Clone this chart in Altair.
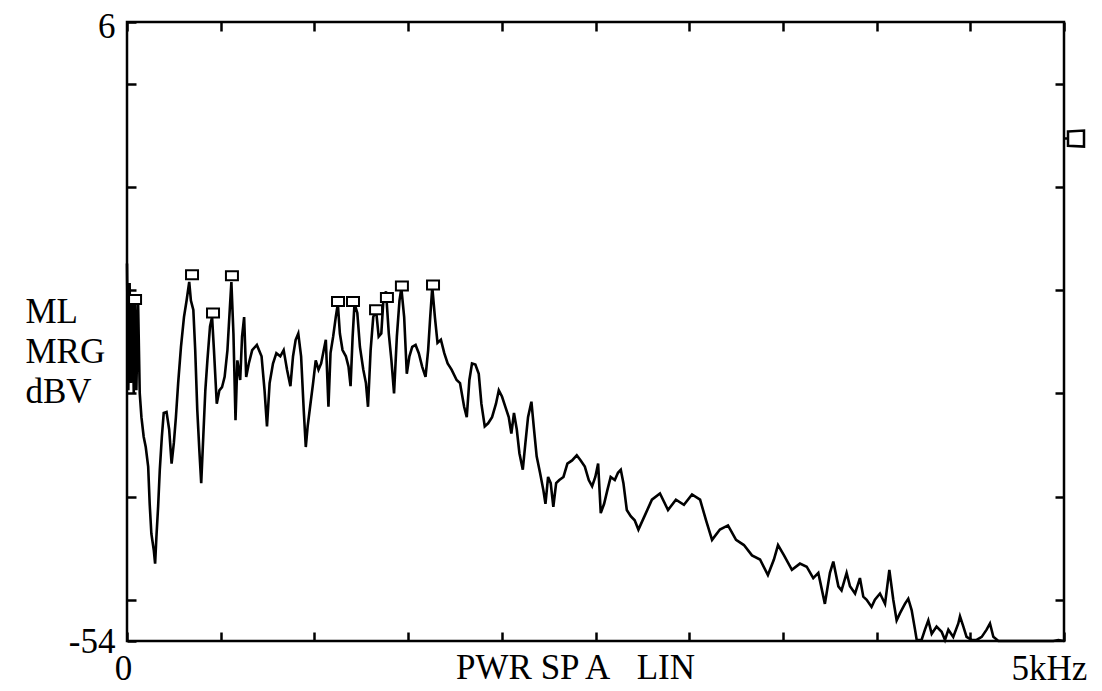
import altair as alt
import pandas as pd

# ---- spectrum trace (Hz, dBV) ----
FREQ_HZ = [0, 7, 14, 21, 29, 36, 43, 50, 59, 68, 77, 89, 100, 113, 121, 130, 143, 150, 157, 166,
           175, 186, 196, 211, 225, 238, 250, 261, 273, 288, 304, 318, 332, 341, 354, 364, 375, 386,
           396, 407, 418, 429, 443, 454, 464, 479, 493, 507, 521, 536, 546, 557, 568, 579, 589, 604,
           614, 625, 636, 650, 668, 693, 718, 734, 747, 761, 779, 797, 818, 836, 854, 872, 886, 900,
           914, 929, 943, 954, 964, 979, 993, 1007, 1022, 1036, 1050, 1061, 1075, 1086, 1100, 1114,
           1125, 1136, 1150, 1168, 1182, 1193, 1204, 1214, 1229, 1243, 1261, 1275, 1286, 1300, 1314,
           1329, 1343, 1357, 1368, 1382, 1397, 1411, 1425, 1440, 1454, 1464, 1479, 1493, 1507, 1522,
           1540, 1557, 1575, 1593, 1607, 1618, 1629, 1643, 1657, 1675, 1693, 1711, 1732, 1759,
           1777, 1799, 1813, 1827, 1841, 1859, 1877, 1891, 1909, 1927, 1948, 1969, 1984, 2001, 2019,
           2037, 2051, 2065, 2080, 2094, 2112, 2126, 2140, 2158, 2172, 2186, 2204, 2222, 2233, 2247,
           2261, 2275, 2290, 2307, 2329, 2350, 2375, 2400, 2421, 2443, 2464, 2482, 2499, 2514, 2528,
           2546, 2563, 2581, 2603, 2620, 2635, 2649, 2667, 2688, 2709, 2729,
           2764, 2801, 2844, 2887, 2929, 2972, 3015, 3058, 3090, 3122, 3164, 3207, 3250, 3292, 3335,
           3378, 3420, 3452, 3474, 3506, 3548,
           3591, 3627, 3662, 3689, 3724, 3751, 3769, 3796, 3813, 3840, 3858, 3885, 3911, 3929, 3947,
           3973, 3991, 4018, 4045, 4068, 4089, 4107, 4125, 4151, 4169, 4187, 4205, 4214, 4240, 4258,
           4276, 4294, 4320, 4347, 4365, 4383, 4409, 4436, 4445, 4463, 4480, 4507, 4534, 4561, 4587,
           4605, 4623, 4650, 4730, 4943, 4970, 5000]
LEVEL_DB = [-17.4, -29.7, -19.3, -29.0, -21.0, -30.0, -20.6, -29.7, -21.0, -30.0, -32.3, -34.2, -35.2,
            -37.1, -40.7, -43.6, -45.2, -46.5, -43.9, -41.0, -37.4, -34.2, -31.9, -31.8, -33.5, -36.8,
            -34.8, -32.3, -29.0, -25.5, -22.6, -21.0, -19.2, -21.0, -21.9, -25.8, -31.6, -35.5, -38.7,
            -34.2, -29.7, -26.8, -23.5, -22.6, -25.8, -31.0, -29.7, -29.4, -28.4, -25.8, -22.6, -19.2,
            -24.2, -32.6, -26.8, -28.7, -24.5, -22.6, -28.4, -27.1, -25.8, -25.3, -26.4, -29.7, -33.2,
            -29.0, -27.1, -26.1, -26.4, -25.8, -27.7, -29.3, -26.4, -24.8, -24.2, -26.4, -31.6, -35.2,
            -33.2, -31.0, -29.0, -26.8, -27.7, -27.1, -25.8, -24.8, -31.3, -26.1, -24.5, -22.6, -21.3,
            -24.2, -25.8, -26.4, -27.4, -29.3, -24.5, -21.3, -22.2, -25.5, -27.7, -29.0, -31.3, -25.8,
            -22.6, -21.9, -24.5, -24.2, -21.0, -20.1, -24.2, -26.8, -30.0, -24.5, -21.0, -19.8, -22.6,
            -28.1, -26.4, -25.5, -25.3, -26.1, -27.4, -28.4, -25.8, -22.6, -19.7, -22.6, -25.1, -24.8,
            -26.1, -27.1, -27.7, -28.7,
            -29.0, -31.3, -32.3, -28.7, -27.1, -27.2, -28.1, -31.0, -33.2, -32.9, -32.3, -31.0, -29.7,
            -30.3, -31.3, -32.3, -33.9, -31.9, -33.5, -35.8, -37.4, -34.8, -32.3, -30.8, -33.5, -36.1,
            -37.7, -39.4, -40.7, -38.1, -38.7, -41.0, -38.7, -38.4, -38.1, -36.8, -36.5, -36.0, -36.5,
            -37.1, -38.4, -39.0, -38.1, -36.8, -41.6, -40.7, -39.4, -38.1, -38.4, -37.7, -37.4, -38.7,
            -41.3, -41.9, -42.3, -43.2,
            -41.8, -40.3, -39.7, -41.3, -40.3, -40.8, -39.8, -40.3, -42.3, -44.2, -43.2, -42.8, -44.2,
            -44.7, -45.7, -46.1, -47.6, -46.1, -44.7, -45.7, -47.1,
            -46.5, -46.8, -47.9, -47.4, -50.4, -47.4, -46.3, -48.7, -49.1, -47.4, -48.7, -49.4, -47.9,
            -49.7, -50.0, -50.7, -50.0, -49.4, -50.4, -47.1, -50.0, -52.0, -51.3, -50.4, -49.9, -51.0,
            -52.9, -53.9, -53.9, -52.9, -52.0, -53.3, -52.6, -53.1, -53.9, -52.9, -53.6, -52.3, -51.6,
            -52.6, -53.6, -53.9, -53.9, -53.6, -52.9, -52.3, -53.6, -54.0, -54.0, -54.0, -53.9, -54.0]

# ---- peak markers ----
PEAK_HZ = [43, 347, 459, 560, 1126, 1206, 1329, 1387, 1467, 1633]
PEAK_DB = [-20.9, -18.5, -22.2, -18.6, -21.1, -21.1, -21.9, -20.7, -19.6, -19.5]

# ---- reference-level marker on the right edge ----
REF_HZ = [5000]
REF_DB = [-5.3]

# ---- axes ----
X_TICKS = [0, 500, 1000, 1500, 2000, 2500, 3000, 3500, 4000, 4500, 5000]
Y_TICKS_LEFT = [6, 0, -10, -20, -30, -40, -50, -54]
Y_TICKS_RIGHT = [0, -10, -20, -30, -40, -50]
X_DOMAIN = [0, 5000]
Y_DOMAIN = [-54, 6]

FONT = "Liberation Serif"
FS = 35

trace = pd.DataFrame({"freq": FREQ_HZ, "db": LEVEL_DB})
peaks = pd.DataFrame({"freq": PEAK_HZ, "db": PEAK_DB})
ref = pd.DataFrame({"freq": REF_HZ, "db": REF_DB})

xs = alt.Scale(domain=X_DOMAIN, nice=False, zero=False)
ys = alt.Scale(domain=Y_DOMAIN, nice=False, zero=False)

tick_style = dict(tickSize=9, tickWidth=2.5, tickColor="black", domain=False, grid=False)

line = alt.Chart(trace).mark_line(color="black", strokeWidth=2.6).encode(
    x=alt.X("freq:Q", scale=xs, axis=alt.Axis(
        orient="bottom", offset=-9, values=X_TICKS, **tick_style,
        labelExpr="datum.value == 0 ? '0' : datum.value == 5000 ? '5kHz' : ''",
        labelFlush=False, labelOverlap=False, labelPadding=10,
        labelOffset=alt.condition("datum.value == 5000", alt.value(-15), alt.value(-4)),
        labelFont=FONT, labelFontSize=FS, labelColor="black",
        title="PWR SP A\u00a0\u00a0\u00a0LIN", titleFont=FONT, titleFontSize=FS,
        titleFontWeight="normal", titleColor="black", titleX=448, titleY=46,
        titleAlign="center", titleBaseline="alphabetic")),
    y=alt.Y("db:Q", scale=ys, axis=alt.Axis(
        orient="left", offset=-9, values=Y_TICKS_LEFT, **tick_style,
        labelExpr="datum.value == 6 ? '6' : datum.value == -54 ? '-54' : ''",
        labelOffset=alt.condition("datum.value == 6", alt.value(4), alt.value(0)),
        labelOverlap=False, labelPadding=12, labelFont=FONT, labelFontSize=FS,
        labelColor="black",
        title=["ML", "MRG", "dBV"], titleFont=FONT, titleFontSize=FS,
        titleFontWeight="normal", titleColor="black", titleAngle=0,
        titleAlign="left", titleBaseline="alphabetic", titleX=-111, titleY=300,
        titleLineHeight=40)),
)

BOX = "M-1,-0.75L1,-0.75L1,0.75L-1,0.75Z"
markers = alt.Chart(peaks).mark_point(
    shape=BOX, size=144, filled=True, fill="white", stroke="black",
    strokeWidth=2, opacity=1).encode(
    x=alt.X("freq:Q", scale=xs, axis=alt.Axis(
        orient="top", offset=-9, values=X_TICKS, labels=False, title="", **tick_style)),
    y=alt.Y("db:Q", scale=ys, axis=alt.Axis(
        orient="right", offset=-9, values=Y_TICKS_RIGHT, labels=False, title="", **tick_style)),
)

REF_SHAPE = "M0,0L0.5,0M0.5,-0.9L2.5,-1L2.5,1L0.5,0.9Z"
refmark = alt.Chart(ref).mark_point(
    shape=REF_SHAPE, size=256, filled=True, fill="white", stroke="black",
    strokeWidth=2.5, opacity=1).encode(
    x=alt.X("freq:Q", scale=xs, axis=None),
    y=alt.Y("db:Q", scale=ys, axis=None),
)

chart = alt.layer(line, markers, refmark).resolve_axis(
    x="independent", y="independent"
).properties(
    width=937, height=619,
    autosize=alt.AutoSizeParams(type="none"),
    padding={"left": 119, "top": 14, "right": 30, "bottom": 53},
    background="white",
).configure_view(stroke="black", strokeWidth=2.5)

chart.save("out.html", embed_options={"renderer": "svg", "actions": False})
